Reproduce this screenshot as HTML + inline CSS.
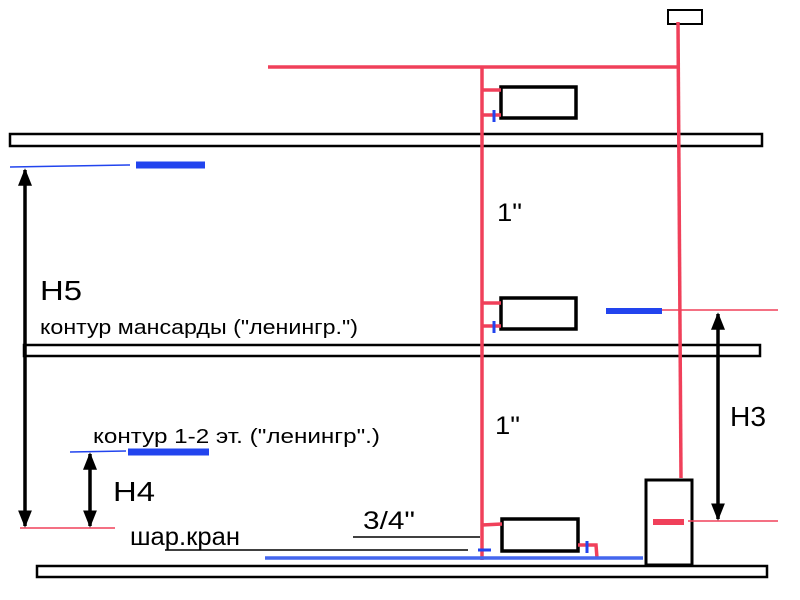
<!DOCTYPE html>
<html><head><meta charset="utf-8"><style>body{margin:0;background:#fff}svg{display:block}</style></head><body>
<svg width="800" height="600" viewBox="0 0 800 600" xmlns="http://www.w3.org/2000/svg" font-family="Liberation Sans, sans-serif">
<defs><marker id="a" viewBox="0 0 10 10" refX="9" refY="5" markerWidth="5" markerHeight="6" orient="auto-start-reverse" markerUnits="strokeWidth"><path d="M0,1 L10,5 L0,9 z" fill="#000"/></marker></defs>
<g fill="none" stroke="#000" stroke-width="2.5">
<rect x="10" y="134" width="752" height="12"/>
<rect x="24" y="345" width="736" height="11"/>
<rect x="37" y="566" width="730" height="11"/>
<rect x="668" y="10" width="34" height="14" stroke-width="2"/>
<rect x="501" y="87" width="75" height="31" stroke-width="3.5"/>
<rect x="501" y="298" width="75" height="31" stroke-width="3.5"/>
<rect x="502" y="519" width="76" height="32" stroke-width="3.5"/>
<rect x="646" y="480" width="46" height="85" stroke-width="3"/>
</g>
<g stroke="#f0405a" stroke-width="3.5" fill="none">
<line x1="268" y1="67" x2="678" y2="67"/>
<line x1="482" y1="67" x2="482" y2="560"/>
<line x1="678" y1="22" x2="681" y2="478"/>
<line x1="482" y1="90" x2="501" y2="90"/><line x1="482" y1="115" x2="501" y2="115"/>
<line x1="482" y1="303" x2="501" y2="303"/><line x1="482" y1="326" x2="501" y2="326"/>
<line x1="482" y1="525" x2="502" y2="524"/>
<polyline points="578,545 596,545 597,558"/>
<line x1="653" y1="522" x2="684" y2="522" stroke-width="6"/>
</g>
<g stroke="#f0405a" stroke-width="1.5">
<line x1="662" y1="310" x2="778" y2="310"/>
<line x1="688" y1="521" x2="778" y2="521"/>
<line x1="20" y1="528" x2="115" y2="528"/>
</g>
<g stroke="#2244ee">
<line x1="10" y1="167" x2="130" y2="165" stroke-width="1.5"/>
<line x1="136" y1="165" x2="205" y2="165" stroke-width="7"/>
<line x1="606" y1="311" x2="662" y2="311" stroke-width="6"/>
<line x1="70" y1="452" x2="126" y2="451" stroke-width="1.5"/>
<line x1="128" y1="452" x2="209" y2="452" stroke-width="7"/>
<line x1="265" y1="558" x2="643" y2="558" stroke-width="3.5" stroke="#4466ee"/>
<line x1="494" y1="110" x2="494" y2="122" stroke-width="3"/>
<line x1="494" y1="321" x2="494" y2="333" stroke-width="3"/>
<line x1="478" y1="550" x2="491" y2="550" stroke-width="3"/>
<line x1="587" y1="541" x2="587" y2="553" stroke-width="3"/>
</g>
<g stroke="#000" stroke-width="3.5" marker-start="url(#a)" marker-end="url(#a)">
<line x1="25" y1="170" x2="25" y2="526"/>
<line x1="90" y1="454" x2="90" y2="526"/>
<line x1="718" y1="314" x2="718" y2="519"/>
</g>
<g stroke="#000" stroke-width="1.5">
<line x1="165" y1="550" x2="468" y2="550"/>
<line x1="353" y1="537" x2="480" y2="537"/>
</g>
<g fill="#000">
<text x="40" y="300" font-size="28" textLength="42" lengthAdjust="spacingAndGlyphs">H5</text>
<text x="40" y="334" font-size="20" textLength="318" lengthAdjust="spacingAndGlyphs">контур мансарды ("ленингр.")</text>
<text x="497" y="221" font-size="25" textLength="25" lengthAdjust="spacingAndGlyphs">1"</text>
<text x="495" y="434" font-size="25" textLength="25" lengthAdjust="spacingAndGlyphs">1"</text>
<text x="730" y="426" font-size="28" textLength="36" lengthAdjust="spacingAndGlyphs">H3</text>
<text x="93" y="443" font-size="20" textLength="287" lengthAdjust="spacingAndGlyphs">контур 1-2 эт. ("ленингр".)</text>
<text x="113" y="501" font-size="28" textLength="42" lengthAdjust="spacingAndGlyphs">H4</text>
<text x="130" y="545" font-size="25" textLength="110" lengthAdjust="spacingAndGlyphs">шар.кран</text>
<text x="363" y="529" font-size="25" textLength="52" lengthAdjust="spacingAndGlyphs">3/4"</text>
</g>
</svg>
</body></html>
